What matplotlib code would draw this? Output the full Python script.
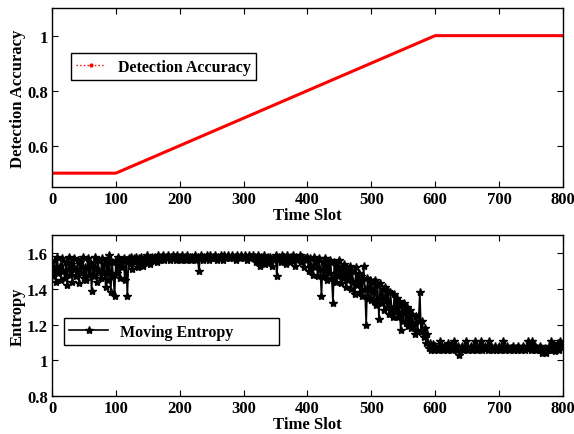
import matplotlib
matplotlib.use("Agg")
import matplotlib.pyplot as plt
from matplotlib.lines import Line2D

plt.rcParams['font.family'] = ['Liberation Serif', 'DejaVu Serif']
plt.rcParams['font.weight'] = 'bold'
plt.rcParams['font.size'] = 12

# detection accuracy (break points of the piecewise curve)
acc_slots = [0, 100, 600, 800]
acc_values = [0.5, 0.5, 1.0, 1.0]

# moving entropy, read every 2 time slots
ent_slots = list(range(0, 801, 2))
ent_values = [
    1.52, 1.47, 1.56, 1.44, 1.58, 1.49, 1.53, 1.45, 1.57, 1.50,
    1.46, 1.55, 1.42, 1.58, 1.48, 1.54, 1.44, 1.57, 1.51, 1.47,
    1.56, 1.43, 1.55, 1.49, 1.58, 1.46, 1.52, 1.45, 1.57, 1.48,
    1.55, 1.39, 1.53, 1.47, 1.58, 1.44, 1.56, 1.50, 1.46, 1.57,
    1.49, 1.54, 1.41, 1.56, 1.45, 1.59, 1.38, 1.55, 1.47, 1.36,
    1.56, 1.49, 1.58, 1.46, 1.55, 1.52, 1.57, 1.45, 1.56, 1.36,
    1.57, 1.54, 1.58, 1.51, 1.57, 1.55, 1.58, 1.52, 1.57, 1.54,
    1.58, 1.53, 1.57, 1.55, 1.59, 1.56, 1.57, 1.54, 1.58, 1.56,
    1.57, 1.58, 1.55, 1.59, 1.56, 1.58, 1.57, 1.59, 1.56, 1.58,
    1.57, 1.59, 1.56, 1.58, 1.57, 1.59, 1.58, 1.56, 1.59, 1.57,
    1.58, 1.56, 1.59, 1.57, 1.58, 1.56, 1.59, 1.57, 1.58, 1.56,
    1.58, 1.57, 1.59, 1.56, 1.58, 1.50, 1.57, 1.59, 1.56, 1.58,
    1.57, 1.59, 1.58, 1.56, 1.59, 1.57, 1.58, 1.57, 1.59, 1.56,
    1.58, 1.57, 1.59, 1.58, 1.56, 1.59, 1.57, 1.58, 1.59, 1.57,
    1.58, 1.59, 1.57, 1.58, 1.56, 1.59, 1.58, 1.57, 1.59, 1.58,
    1.57, 1.59, 1.58, 1.56, 1.59, 1.57, 1.58, 1.59, 1.57, 1.58,
    1.55, 1.59, 1.57, 1.53, 1.58, 1.56, 1.59, 1.54, 1.57, 1.58,
    1.55, 1.58, 1.53, 1.57, 1.56, 1.59, 1.47, 1.57, 1.58, 1.55,
    1.59, 1.56, 1.58, 1.54, 1.59, 1.57, 1.55, 1.58, 1.56, 1.59,
    1.53, 1.58, 1.56, 1.57, 1.59, 1.55, 1.58, 1.52, 1.57, 1.56,
    1.58, 1.50, 1.57, 1.53, 1.48, 1.58, 1.52, 1.56, 1.47, 1.57,
    1.51, 1.36, 1.55, 1.47, 1.57, 1.45, 1.54, 1.49, 1.56, 1.46,
    1.32, 1.55, 1.44, 1.53, 1.47, 1.56, 1.43, 1.52, 1.46, 1.54,
    1.41, 1.51, 1.45, 1.53, 1.40, 1.50, 1.44, 1.37, 1.52, 1.42,
    1.49, 1.38, 1.47, 1.36, 1.53, 1.40, 1.20, 1.46, 1.35, 1.45,
    1.34, 1.44, 1.33, 1.45, 1.31, 1.42, 1.23, 1.43, 1.32, 1.40,
    1.28, 1.41, 1.30, 1.39, 1.26, 1.38, 1.29, 1.24, 1.37, 1.27,
    1.35, 1.24, 1.33, 1.17, 1.31, 1.22, 1.32, 1.21, 1.30, 1.19,
    1.28, 1.18, 1.26, 1.21, 1.15, 1.25, 1.17, 1.22, 1.38, 1.16,
    1.22, 1.13, 1.18, 1.10, 1.15, 1.07, 1.10, 1.06, 1.09, 1.06,
    1.08, 1.07, 1.06, 1.08, 1.11, 1.07, 1.06, 1.08, 1.07, 1.06,
    1.10, 1.07, 1.08, 1.06, 1.07, 1.11, 1.07, 1.06, 1.08, 1.03,
    1.07, 1.08, 1.06, 1.07, 1.11, 1.07, 1.06, 1.07, 1.08, 1.06,
    1.07, 1.11, 1.07, 1.06, 1.08, 1.07, 1.11, 1.06, 1.07, 1.08,
    1.07, 1.06, 1.11, 1.07, 1.08, 1.06, 1.07, 1.08, 1.06, 1.07,
    1.08, 1.06, 1.07, 1.11, 1.07, 1.06, 1.08, 1.07, 1.06, 1.07,
    1.07, 1.08, 1.06, 1.07, 1.06, 1.08, 1.07, 1.06, 1.07, 1.08,
    1.06, 1.07, 1.08, 1.11, 1.07, 1.06, 1.11, 1.07, 1.08, 1.06,
    1.07, 1.06, 1.08, 1.07, 1.04, 1.05, 1.07, 1.04, 1.06, 1.08,
    1.07, 1.11, 1.06, 1.08, 1.05, 1.07, 1.10, 1.06, 1.11, 1.08,
    1.09,
]

x_ticks = [0, 100, 200, 300, 400, 500, 600, 700, 800]
acc_ticks = [0.6, 0.8, 1.0]
acc_tick_labels = ['0.6', '0.8', '1']
ent_ticks = [0.8, 1.0, 1.2, 1.4, 1.6]
ent_tick_labels = ['0.8', '1', '1.2', '1.4', '1.6']

fig = plt.figure(figsize=(5.74, 4.35), dpi=100)
ax1 = fig.add_axes([0.0906, 0.568, 0.89, 0.411])
ax2 = fig.add_axes([0.0906, 0.087, 0.89, 0.370])

leg_font = {'weight': 'bold', 'size': 11.5}


def style_axis(ax):
    ax.tick_params(direction='in', top=True, right=True, length=4, width=0.8, pad=3)
    for s in ax.spines.values():
        s.set_linewidth(1.0)
    ax.set_xlim(0, 800)
    ax.set_xticks(x_ticks)
    ax.set_xticklabels([str(t) for t in x_ticks])
    ax.set_xlabel('Time Slot', fontweight='bold', labelpad=0)


# top: detection accuracy
ax1.plot(acc_slots, acc_values, color='red', lw=2.2)
ax1.set_ylim(0.45, 1.1)
ax1.set_yticks(acc_ticks)
ax1.set_yticklabels(acc_tick_labels)
ax1.set_ylabel('Detection Accuracy', fontweight='bold', labelpad=1)
style_axis(ax1)
h1 = Line2D([], [], color='red', ls=':', lw=1, marker='.', markersize=4)
leg1 = ax1.legend([h1], ['Detection Accuracy'], loc='upper left', bbox_to_anchor=(0.037, 0.749),
                  borderaxespad=0, fancybox=False, edgecolor='black', framealpha=1,
                  numpoints=1, handlelength=1.8, borderpad=0.35, prop=leg_font)
leg1.get_frame().set_linewidth(1.0)

# bottom: moving entropy
ax2.plot(ent_slots, ent_values, color='black', lw=1.2, marker='*', markersize=6)
ax2.set_ylim(0.8, 1.7)
ax2.set_yticks(ent_ticks)
ax2.set_yticklabels(ent_tick_labels)
ax2.set_ylabel('Entropy', fontweight='bold', labelpad=1)
style_axis(ax2)
leg2 = ax2.legend(['Moving Entropy' + '\u00a0' * 10], loc='upper left', bbox_to_anchor=(0.023, 0.484),
                  borderaxespad=0, fancybox=False, edgecolor='black', framealpha=1,
                  numpoints=1, handlelength=2.4, borderpad=0.35, prop=leg_font)
leg2.get_frame().set_linewidth(1.0)

fig.savefig('out.png', dpi=100)
